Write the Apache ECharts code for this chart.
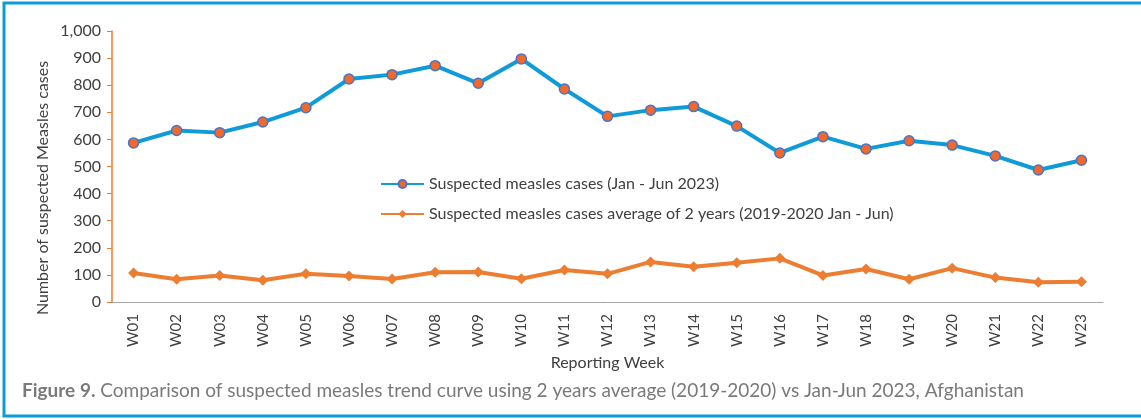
<!DOCTYPE html>
<html>
<head>
<meta charset="utf-8">
<script src="https://cdn.jsdelivr.net/npm/echarts@6/dist/echarts.min.js"></script>
<style>
  html, body { margin: 0; padding: 0; background: #fff; }
  #chart { width: 1141px; height: 419px; }
</style>
</head>
<body>
<div id="chart"></div>
<script>
const weeks = ['W01', 'W02', 'W03', 'W04', 'W05', 'W06', 'W07', 'W08', 'W09', 'W10', 'W11', 'W12',
  'W13', 'W14', 'W15', 'W16', 'W17', 'W18', 'W19', 'W20', 'W21', 'W22', 'W23']
const cases2023 = [587, 633, 625, 664, 717, 823, 839, 872, 807, 897, 786, 685,
  708, 721, 649, 550, 610, 565, 595, 579, 539, 487, 523]
const avg2019_2020 = [107, 84, 98, 80, 104, 96, 85, 110, 111, 86, 118, 104,
  148, 130, 145, 161, 98, 122, 84, 125, 90, 73, 75]

const font = 'Lato'
const chart = echarts.init(document.getElementById('chart'))

const option = {
  animation: false,
  textStyle: { fontFamily: font },
  title: {
    left: 22,
    top: 381,
    padding: 0,
    text: '{b|Figure 9.} Comparison of suspected measles trend curve using 2 years average (2019-2020) vs Jan-Jun 2023, Afghanistan',
    textStyle: {
      fontFamily: font,
      fontSize: 19,
      fontWeight: 'normal',
      color: '#7a7a7a',
      rich: {
        b: { fontFamily: font, fontSize: 19, fontWeight: 'bold', color: '#7a7a7a' }
      }
    }
  },
  legend: {
    orient: 'vertical',
    left: 380,
    top: 176,
    padding: 0,
    itemWidth: 43,
    itemHeight: 10,
    itemGap: 14,
    textStyle: { fontFamily: font, fontSize: 16, color: '#404040' }
  },
  grid: {
    left: 112,
    right: 38,
    top: 31,
    bottom: 117
  },
  xAxis: {
    type: 'category',
    data: weeks,
    name: 'Reporting Week',
    nameLocation: 'middle',
    nameGap: 50,
    nameTextStyle: { fontFamily: font, fontSize: 16, color: '#404040' },
    axisLine: { lineStyle: { color: '#a6a6a6', width: 1 } },
    axisTick: { show: false },
    axisLabel: { rotate: 90, margin: 12, fontSize: 15, color: '#404040', fontFamily: font }
  },
  yAxis: {
    type: 'value',
    min: 0,
    max: 1000,
    interval: 100,
    axisLine: { show: true, lineStyle: { color: '#ed7d31', width: 1.5 } },
    axisTick: { show: true, length: 5, lineStyle: { color: '#ed7d31' } },
    axisLabel: {
      margin: 11,
      fontSize: 16,
      color: '#404040',
      fontFamily: font,
      formatter: v => v.toLocaleString('en-US')
    },
    splitLine: { show: false }
  },
  series: [
    {
      name: 'Suspected measles cases (Jan - Jun 2023)',
      type: 'line',
      data: cases2023,
      symbol: 'circle',
      symbolSize: 10,
      lineStyle: { color: '#0e9bd8', width: 4 },
      itemStyle: { color: '#f0692a', borderColor: '#4a74c9', borderWidth: 1.5 }
    },
    {
      name: 'Suspected measles cases average of 2 years (2019-2020 Jan - Jun)',
      type: 'line',
      data: avg2019_2020,
      symbol: 'diamond',
      symbolSize: 11,
      lineStyle: { color: '#ed7d31', width: 4 },
      itemStyle: { color: '#ed7d31' }
    }
  ],
  graphic: [
    {
      type: 'polyline',
      shape: { points: [[1141, 3], [4, 3], [4, 416], [1141, 416]] },
      style: { stroke: '#0b9bd8', lineWidth: 3, fill: null }
    },
    {
      // y axis title, placed a bit lower than the plot centre as in the original
      type: 'text',
      x: 43,
      y: 188,
      rotation: Math.PI / 2,
      style: {
        text: 'Number of suspected Measles cases',
        fontFamily: font,
        fontSize: 16,
        fill: '#404040',
        align: 'center',
        verticalAlign: 'middle'
      }
    }
  ]
}

chart.setOption(option)
</script>
</body>
</html>
